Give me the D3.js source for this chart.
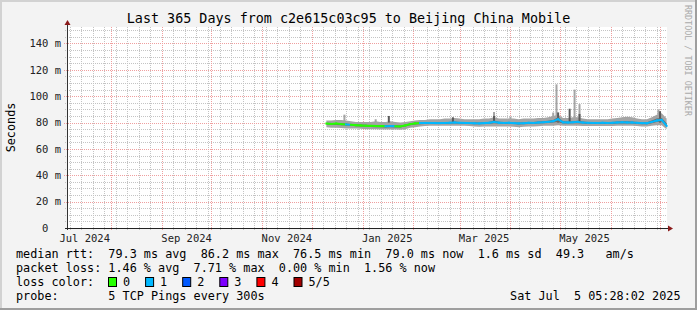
<!DOCTYPE html>
<html>
<head>
<meta charset="utf-8">
<script src="https://cdnjs.cloudflare.com/ajax/libs/d3/7.8.5/d3.min.js"></script>
<style>
  body { margin: 0; background: #fff; }
  svg { display: block; }
  text { font-family: "DejaVu Sans Mono", monospace; white-space: pre; }
</style>
</head>
<body>
<div id="chart"></div>
<script>
// time window of the graph
var graphStart = new Date(2024, 6, 5, 5, 28, 2);
var graphEnd = new Date(2025, 6, 5, 5, 28, 2);

// samples every 3 days starting 2024-12-10
var sampleStart = new Date(2024, 11, 10);
var sampleStepDays = 3;

// median rtt (ms)
var median = [79.2, 79.0, 79.3, 78.8, 78.6, 78.3, 78.0, 77.8, 77.6, 77.5,
              77.4, 77.3, 77.2, 77.3, 77.2, 77.1, 77.8, 78.8, 79.3, 79.6,
              79.7, 79.7, 79.6, 79.6, 79.7, 79.8, 80.0, 79.8, 79.7, 79.6,
              79.5, 79.4, 79.6, 79.8, 80.5, 79.9, 79.7, 79.8, 79.6, 79.4,
              79.5, 79.8, 79.7, 80.0, 80.2, 80.5, 81.0, 82.5, 80.2, 80.0,
              80.2, 80.5, 80.0, 79.8, 79.7, 79.7, 79.8, 79.7, 79.8, 80.0,
              80.2, 80.1, 80.0, 79.8, 79.6, 79.5, 80.5, 81.5, 82.0, 77.5];
// smoke: fastest / slowest ping
var smokeLo = [76.5, 76.0, 76.0, 75.8, 75.5, 75.5, 75.5, 75.3, 75.0, 75.0,
               75.0, 74.8, 74.8, 74.8, 74.8, 74.5, 75.0, 76.0, 76.5, 77.0,
               77.3, 77.5, 77.5, 77.5, 77.5, 77.5, 77.5, 77.5, 77.5, 77.3,
               77.0, 76.8, 77.0, 77.0, 77.0, 77.0, 77.0, 77.0, 76.8, 76.5,
               76.8, 77.0, 77.0, 77.2, 77.5, 77.5, 77.5, 78.0, 77.5, 77.5,
               77.5, 77.5, 77.3, 77.3, 77.3, 77.3, 77.3, 77.3, 77.3, 77.5,
               77.5, 77.5, 77.5, 77.3, 77.0, 77.0, 77.5, 78.0, 78.0, 75.0];
var smokeHi = [81.5, 81.5, 82.0, 82.0, 81.5, 81.0, 80.5, 80.5, 80.5, 80.5,
               81.0, 80.5, 80.5, 81.0, 80.5, 80.0, 80.5, 81.0, 81.5, 82.0,
               82.0, 82.5, 82.5, 82.5, 83.0, 83.0, 83.5, 83.0, 82.5, 82.5,
               82.5, 82.5, 83.0, 83.0, 84.0, 83.0, 83.0, 83.0, 83.0, 82.5,
               83.0, 83.0, 83.0, 83.5, 83.5, 84.0, 85.0, 86.0, 83.5, 83.5,
               84.0, 84.0, 83.0, 82.5, 82.5, 82.5, 82.5, 82.5, 83.0, 83.5,
               84.0, 84.5, 84.0, 83.0, 82.5, 82.5, 84.0, 86.0, 87.0, 83.0];
// smoke: 2nd / 4th ping
var innerLo = [78.5, 78.3, 78.2, 78.0, 77.8, 77.5, 77.2, 77.0, 76.8, 76.7,
               76.5, 76.4, 76.3, 76.4, 76.3, 76.2, 77.0, 78.0, 78.5, 78.8,
               79.0, 79.0, 78.9, 78.9, 79.0, 79.1, 79.2, 79.1, 79.0, 78.9,
               78.8, 78.7, 78.9, 79.0, 79.5, 79.1, 79.0, 79.0, 78.9, 78.6,
               78.7, 79.0, 79.0, 79.2, 79.4, 79.6, 80.0, 80.5, 79.3, 79.2,
               79.4, 79.5, 79.2, 79.0, 79.0, 79.0, 79.0, 79.0, 79.0, 79.2,
               79.3, 79.3, 79.2, 79.0, 78.8, 78.7, 79.5, 80.5, 80.8, 76.8];
var innerHi = [79.8, 79.6, 79.6, 79.5, 79.3, 79.0, 78.7, 78.5, 78.3, 78.2,
               78.1, 78.0, 78.0, 78.1, 78.0, 77.8, 78.5, 79.5, 80.0, 80.3,
               80.4, 80.4, 80.3, 80.3, 80.4, 80.5, 80.8, 80.5, 80.4, 80.3,
               80.2, 80.1, 80.3, 80.5, 81.5, 80.6, 80.4, 80.5, 80.3, 80.1,
               80.2, 80.5, 80.4, 80.8, 81.0, 81.3, 82.0, 84.0, 81.0, 80.8,
               81.0, 81.3, 80.8, 80.5, 80.4, 80.4, 80.5, 80.4, 80.5, 80.8,
               81.0, 81.0, 80.8, 80.5, 80.3, 80.2, 81.5, 83.0, 83.5, 79.5];
// packet loss class of each sample (index into lossColors)
var loss = [0, 0, 0, 0, 1, 0, 0, 0, 0, 0,
            0, 0, 1, 1, 0, 0, 0, 0, 0, 1,
            1, 1, 1, 1, 1, 1, 1, 1, 1, 1,
            1, 1, 1, 1, 1, 1, 1, 1, 1, 1,
            1, 1, 1, 1, 1, 1, 1, 1, 1, 1,
            1, 1, 1, 1, 1, 1, 1, 1, 1, 1,
            1, 1, 1, 1, 1, 1, 1, 1, 1, 1];

// isolated slow pings
var spikes = [
  {date: new Date(2024, 11, 21), top: 86.0, dark: false},
  {date: new Date(2025, 0, 9), top: 82.5, dark: false},
  {date: new Date(2025, 0, 17), top: 85.0, dark: true},
  {date: new Date(2025, 1, 25), top: 84.0, dark: true},
  {date: new Date(2025, 2, 22), top: 88.0, dark: false},
  {date: new Date(2025, 2, 22), top: 85.0, dark: true},
  {date: new Date(2025, 3, 1), top: 84.5, dark: false},
  {date: new Date(2025, 3, 27), top: 87.6, dark: false},
  {date: new Date(2025, 3, 29), top: 109.0, dark: false},
  {date: new Date(2025, 3, 30), top: 87.7, dark: true},
  {date: new Date(2025, 4, 7), top: 90.5, dark: true},
  {date: new Date(2025, 4, 10), top: 105.0, dark: false},
  {date: new Date(2025, 4, 13), top: 94.0, dark: false},
  {date: new Date(2025, 4, 13), top: 86.5, dark: true},
  {date: new Date(2025, 5, 30), top: 90.0, dark: false},
  {date: new Date(2025, 6, 1), top: 88.6, dark: true}
];

var yTicks = [0, 20, 40, 60, 80, 100, 120, 140];
var xLabelMonths = [new Date(2024, 6, 1), new Date(2024, 8, 1), new Date(2024, 10, 1),
                    new Date(2025, 0, 1), new Date(2025, 2, 1), new Date(2025, 4, 1)];
var lossColors = ["#26ff00", "#00b8ff", "#0059ff", "#7e00ff", "#ff0000", "#a10000"];
var lossLabels = ["0", "1", "2", "3", "4", "5/5"];

var title = "Last 365 Days from c2e615c03c95 to Beijing China Mobile";
var legendLines = [
  "median rtt:  79.3 ms avg  86.2 ms max  76.5 ms min  79.0 ms now  1.6 ms sd  49.3   am/s",
  "packet loss: 1.46 % avg  7.71 % max  0.00 % min  1.56 % now",
  "loss color:",
  "probe:       5 TCP Pings every 300s"
];
var stamp = "Sat Jul  5 05:28:02 2025";

// ---------------------------------------------------------------
var W = 697, H = 310;
var plot = {left: 67, right: 667, top: 27, bottom: 228};
var legendFont = 11.8;

var x = d3.scaleTime().domain([graphStart, graphEnd]).range([plot.left, plot.right]);
var y = d3.scaleLinear().domain([0, 152.5]).range([plot.bottom, plot.top]);

var samples = median.map(function(m, i) {
  return {
    date: d3.timeDay.offset(sampleStart, i * sampleStepDays),
    median: m, lo: smokeLo[i], hi: smokeHi[i], inLo: innerLo[i], inHi: innerHi[i], loss: loss[i]
  };
});

var svg = d3.select("#chart").append("svg")
  .attr("width", W).attr("height", H);

// background + frame
svg.append("rect").attr("width", W).attr("height", H).attr("fill", "#f3f3f3");
svg.append("rect").attr("x", 0).attr("y", 0).attr("width", W).attr("height", 2).attr("fill", "#d2d2d2");
svg.append("rect").attr("x", 0).attr("y", 0).attr("width", 2).attr("height", H).attr("fill", "#d2d2d2");
svg.append("rect").attr("x", 0).attr("y", H - 2).attr("width", W).attr("height", 2).attr("fill", "#9e9e9e");
svg.append("rect").attr("x", W - 2).attr("y", 0).attr("width", 2).attr("height", H).attr("fill", "#9e9e9e");

// canvas
svg.append("rect")
  .attr("x", plot.left).attr("y", plot.top)
  .attr("width", plot.right - plot.left).attr("height", plot.bottom - plot.top)
  .attr("fill", "#ffffff");

var grid = svg.append("g").attr("id", "grid");

// minor grid
var minorY = d3.range(0, 151, 5).filter(function(v) { return v % 20 != 0; });
grid.selectAll(".hminor").data(minorY)
  .join("line")
  .attr("class", "hminor")
  .attr("x1", plot.left - 2).attr("x2", plot.right)
  .attr("y1", function(d) { return Math.round(y(d)) + 0.5; })
  .attr("y2", function(d) { return Math.round(y(d)) + 0.5; })
  .attr("stroke", "#c4c4c4").attr("stroke-dasharray", "1,1");

var monthStarts = d3.timeMonth.range(d3.timeMonth.ceil(graphStart), graphEnd);
var weeks = d3.timeSunday.range(graphStart, graphEnd).filter(function(d) {
  return !monthStarts.some(function(m) { return Math.abs(x(m) - x(d)) < 3; });
});
grid.selectAll(".vminor").data(weeks)
  .join("line")
  .attr("class", "vminor")
  .attr("y1", plot.top).attr("y2", plot.bottom + 2)
  .attr("x1", function(d) { return Math.round(x(d)) + 0.5; })
  .attr("x2", function(d) { return Math.round(x(d)) + 0.5; })
  .attr("stroke", "#c4c4c4").attr("stroke-dasharray", "1,1");

// major grid
grid.selectAll(".hmajor").data(yTicks.slice(1))
  .join("line")
  .attr("class", "hmajor")
  .attr("x1", plot.left - 3).attr("x2", plot.right)
  .attr("y1", function(d) { return Math.round(y(d)) + 0.5; })
  .attr("y2", function(d) { return Math.round(y(d)) + 0.5; })
  .attr("stroke", "#ef9f9f").attr("stroke-dasharray", "1,1");

grid.selectAll(".vmajor").data(monthStarts)
  .join("line")
  .attr("class", "vmajor")
  .attr("y1", plot.top).attr("y2", plot.bottom + 3)
  .attr("x1", function(d) { return Math.round(x(d)) + 0.5; })
  .attr("x2", function(d) { return Math.round(x(d)) + 0.5; })
  .attr("stroke", "#ef9f9f").attr("stroke-dasharray", "1,1");

// smoke
var data = svg.append("g").attr("id", "data");
data.append("path").datum(samples)
  .attr("d", d3.area().x(function(d) { return x(d.date); })
    .y0(function(d) { return y(d.lo); }).y1(function(d) { return y(d.hi); }))
  .attr("fill", "#a4a4a4");

data.selectAll(".spike").data(spikes)
  .join("rect")
  .attr("class", "spike")
  .attr("x", function(d) { return x(d.date) - 1; })
  .attr("width", 2)
  .attr("y", function(d) { return y(d.top); })
  .attr("height", function(d) { return y(80) - y(d.top); })
  .attr("fill", function(d) { return d.dark ? "#5a5a5a" : "#a4a4a4"; });

data.append("path").datum(samples)
  .attr("d", d3.area().x(function(d) { return x(d.date); })
    .y0(function(d) { return y(d.inLo); }).y1(function(d) { return y(d.inHi); }))
  .attr("fill", "#6a6a6a");

// median line coloured by loss
data.selectAll(".median").data(samples.slice(0, -1))
  .join("line")
  .attr("class", "median")
  .attr("x1", function(d) { return x(d.date); })
  .attr("y1", function(d) { return y(d.median); })
  .attr("x2", function(d, i) { return x(samples[i + 1].date); })
  .attr("y2", function(d, i) { return y(samples[i + 1].median); })
  .attr("stroke", function(d) { return lossColors[d.loss]; })
  .attr("stroke-width", 2)
  .attr("stroke-linecap", "square");

// axes
var axis = svg.append("g").attr("id", "axes");
axis.append("line")
  .attr("x1", plot.left + 0.5).attr("x2", plot.left + 0.5)
  .attr("y1", plot.bottom + 2).attr("y2", plot.top - 3)
  .attr("stroke", "#333");
axis.append("line")
  .attr("x1", plot.left - 2).attr("x2", plot.right + 2)
  .attr("y1", plot.bottom + 0.5).attr("y2", plot.bottom + 0.5)
  .attr("stroke", "#222");
axis.append("path")
  .attr("d", d3.line()([[plot.left - 2.5, plot.top - 2], [plot.left + 0.5, plot.top - 7], [plot.left + 3.5, plot.top - 2]]) + "Z")
  .attr("fill", "#8b1a1a");
axis.append("path")
  .attr("d", d3.line()([[plot.right + 1, plot.bottom - 2.5], [plot.right + 6, plot.bottom + 0.5], [plot.right + 1, plot.bottom + 3.5]]) + "Z")
  .attr("fill", "#8b1a1a");

// y labels
axis.selectAll(".ylab").data(yTicks)
  .join("text")
  .attr("class", "ylab")
  .attr("x", 61)
  .attr("y", function(d) { return y(d) + 3.7; })
  .attr("text-anchor", "end")
  .attr("font-size", 10.5)
  .attr("fill", "#222")
  .text(function(d) { return d == 0 ? "0  " : d + " m"; });

// x labels: centred half a month after the month start
axis.selectAll(".xlab").data(xLabelMonths)
  .join("text")
  .attr("class", "xlab")
  .attr("x", function(d) { return x(d3.timeDay.offset(d, 15)); })
  .attr("y", 241.5)
  .attr("text-anchor", "middle")
  .attr("font-size", 10.5)
  .attr("fill", "#222")
  .text(d3.timeFormat("%b %Y"));

// titles
svg.append("text")
  .attr("x", W / 2).attr("y", 23)
  .attr("text-anchor", "middle")
  .attr("font-size", 13.4)
  .text(title);

svg.append("text")
  .attr("transform", "translate(14.5," + ((plot.top + plot.bottom) / 2) + ") rotate(-90)")
  .attr("text-anchor", "middle")
  .attr("font-size", legendFont)
  .text("Seconds");

svg.append("text")
  .attr("transform", "translate(684.5,5) rotate(90)")
  .attr("font-size", 8.4)
  .attr("fill", "#aaaaaa")
  .text("RRDTOOL / TOBI OETIKER");

// legend
var legend = svg.append("g").attr("id", "legend");
var lineY = [257.5, 271.7, 286, 300.2];
legend.selectAll(".legline").data(legendLines)
  .join("text")
  .attr("class", "legline")
  .attr("x", 16)
  .attr("y", function(d, i) { return lineY[i]; })
  .attr("font-size", legendFont)
  .text(function(d) { return d; });

var boxes = legend.selectAll(".lossbox").data(lossLabels)
  .join("g")
  .attr("class", "lossbox")
  .attr("transform", function(d, i) { return "translate(" + (108.5 + i * 37.1) + "," + (lineY[2] - 8.5) + ")"; });
boxes.append("rect")
  .attr("width", 8).attr("height", 9)
  .attr("fill", function(d, i) { return lossColors[i]; })
  .attr("stroke", "#000");
boxes.append("text")
  .attr("x", 14.5).attr("y", 8.5)
  .attr("font-size", legendFont)
  .text(function(d) { return d; });

legend.append("text")
  .attr("x", 680.5).attr("y", lineY[3])
  .attr("text-anchor", "end")
  .attr("font-size", legendFont)
  .text(stamp);
</script>
</body>
</html>
